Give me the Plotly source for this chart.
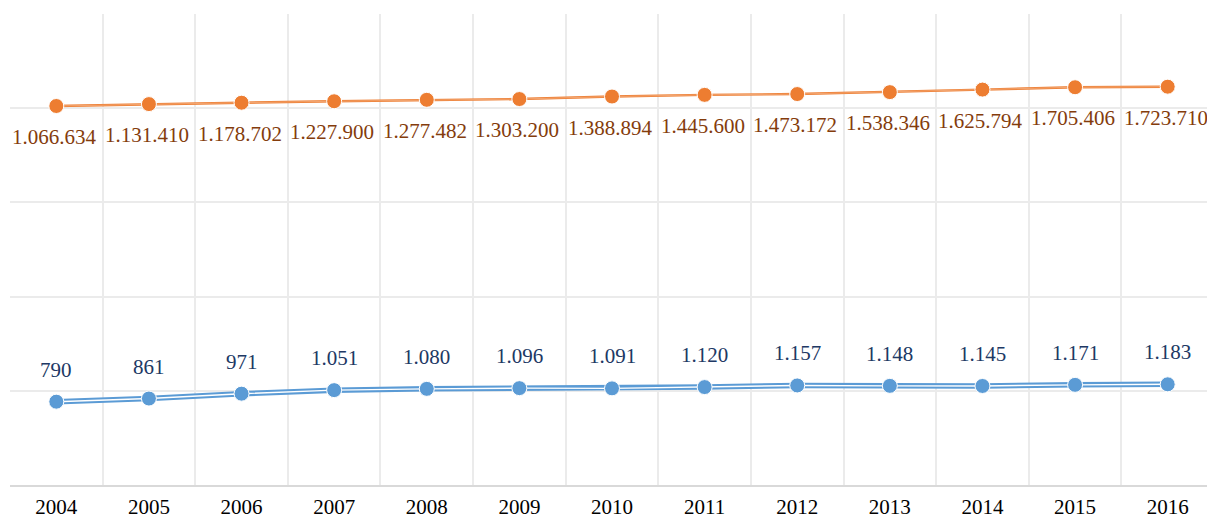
import plotly.graph_objects as go

years = ["2004", "2005", "2006", "2007", "2008", "2009", "2010",
         "2011", "2012", "2013", "2014", "2015", "2016"]
orange_vals = [1066634, 1131410, 1178702, 1227900, 1277482, 1303200, 1388894,
               1445600, 1473172, 1538346, 1625794, 1705406, 1723710]
blue_vals = [790, 861, 971, 1051, 1080, 1096, 1091, 1120, 1157, 1148, 1145, 1171, 1183]


def fmt(v):
    return f"{v:,}".replace(",", ".")


ORANGE = "#ED7D31"
BLUE = "#5B9BD5"
ORANGE_TXT = "#843C0C"
BLUE_TXT = "#203864"
FONT = "Liberation Serif"

blue_range = [-1093, 9552]
orange_range = [-11836800, 4198866]

fig = go.Figure()

# blue double line
fig.add_trace(go.Scatter(x=years, y=blue_vals, mode="lines",
                         line=dict(color=BLUE, width=5.5), yaxis="y",
                         hoverinfo="skip", showlegend=False))
fig.add_trace(go.Scatter(x=years, y=blue_vals, mode="lines",
                         line=dict(color="white", width=1.4), yaxis="y",
                         hoverinfo="skip", showlegend=False))
fig.add_trace(go.Scatter(x=years, y=blue_vals, mode="markers",
                         marker=dict(color=BLUE, size=15, line=dict(color="white", width=1)),
                         yaxis="y", showlegend=False))

# orange line
fig.add_trace(go.Scatter(x=years, y=orange_vals, mode="lines",
                         line=dict(color=ORANGE, width=2.4), yaxis="y2",
                         hoverinfo="skip", showlegend=False))
fig.add_trace(go.Scatter(x=years, y=orange_vals, mode="lines",
                         line=dict(color="rgba(255,255,255,0.45)", width=0.7), yaxis="y2",
                         hoverinfo="skip", showlegend=False))
fig.add_trace(go.Scatter(x=years, y=orange_vals, mode="markers",
                         marker=dict(color=ORANGE, size=15, line=dict(color="white", width=1)),
                         yaxis="y2", showlegend=False))

annotations = []
for i, v in enumerate(blue_vals):
    annotations.append(dict(x=i, y=v, xref="x", yref="y", text=fmt(v), showarrow=False,
                            yshift=32, font=dict(family=FONT, size=21, color=BLUE_TXT)))
for i, v in enumerate(orange_vals):
    annotations.append(dict(x=i, y=v, xref="x", yref="y2", text=fmt(v), showarrow=False,
                            yshift=-31, xshift=-2,
                            font=dict(family=FONT, size=21, color=ORANGE_TXT)))

span = blue_range[1] - blue_range[0]
fig.update_layout(
    width=1207, height=513,
    margin=dict(l=2, r=1, t=6, b=36, autoexpand=False),
    paper_bgcolor="white", plot_bgcolor="white",
    annotations=annotations,
    xaxis=dict(type="category", tickson="boundaries", showgrid=True,
               gridcolor="#EBEBEB", gridwidth=1.5, showline=True, linecolor="#D9D9D9",
               linewidth=1.5, ticks="", range=[-0.5, 12.5], ticklabelstandoff=2,
               automargin=False,
               tickfont=dict(family=FONT, size=21, color="#000000"),
               zeroline=False),
    yaxis=dict(range=blue_range, tickmode="array",
               tickvals=[blue_range[0] + k * span / 5 for k in range(6)],
               showticklabels=False, showgrid=True, gridcolor="#EBEBEB", gridwidth=1.5,
               zeroline=False, fixedrange=True, automargin=False),
    yaxis2=dict(range=orange_range, overlaying="y", side="right", showgrid=False,
                showticklabels=False, zeroline=False, visible=False),
    showlegend=False,
)

fig.write_html("out.html")
